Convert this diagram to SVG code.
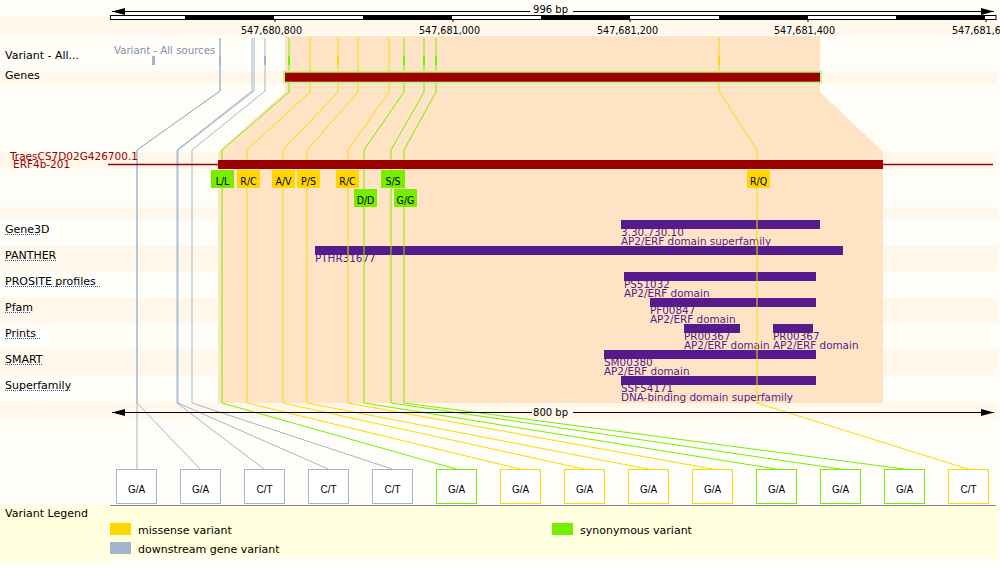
<svg xmlns="http://www.w3.org/2000/svg" width="1000" height="567" viewBox="0 0 1000 567">
<defs>
<style>
.lbl{font-family:"DejaVu Sans",sans-serif;font-size:11px;fill:#000}
.tick{font-family:"DejaVu Sans",sans-serif;font-size:9.6px;fill:#000}
.dom{font-family:"DejaVu Sans",sans-serif;font-size:10.4px;fill:#551a8b}
.dbar{fill:#551a8b}
.cod{font-family:"DejaVu Sans Condensed","DejaVu Sans",sans-serif;font-size:10.5px;fill:#000;text-anchor:middle}
.box{fill:#ffffff;stroke-width:1}
.btxt{font-family:"Liberation Sans",Arial,sans-serif;font-size:10px;fill:#000;text-anchor:middle}
.band{fill:#fff8ea}
.ul{stroke:#2a5db0;stroke-width:1;stroke-dasharray:1,1}
.gry{stroke:#a2b5cd}
.grn{stroke:#76ee00}
.yel{stroke:#ffd700}
.conn polyline{fill:none;stroke-width:1}
.leg{font-family:"DejaVu Sans",sans-serif;font-size:11px;fill:#000}
</style>
<marker id="arrL" markerWidth="13" markerHeight="7" refX="0" refY="3.5" orient="auto" markerUnits="userSpaceOnUse"><path d="M13,0 L0,3.5 L13,7 z" fill="#000"/></marker>
<marker id="arrR" markerWidth="13" markerHeight="7" refX="13" refY="3.5" orient="auto" markerUnits="userSpaceOnUse"><path d="M0,0 L13,3.5 L0,7 z" fill="#000"/></marker>
</defs>

<g id="background">
<rect x="0" y="0" width="1000" height="567" fill="#fffdf8"/>
<rect class="band" x="0" y="16" width="997" height="19"/>
<rect class="band" x="0" y="71" width="997" height="13"/>
<rect class="band" x="0" y="153" width="997" height="16"/>
<rect class="band" x="0" y="207" width="997" height="12"/>
<rect class="band" x="0" y="246" width="997" height="25"/>
<rect class="band" x="0" y="298" width="997" height="25"/>
<rect class="band" x="0" y="349" width="997" height="26"/>
<rect class="band" x="0" y="403" width="997" height="16"/>
<polygon points="285,36 820,36 820,92 883,152 883,403 218,403 218,152 285,92" fill="#fee4c4"/>
</g>

<g id="scale-top">
<line x1="112" y1="11.5" x2="530" y2="11.5" stroke="#000" stroke-width="1.2" marker-start="url(#arrL)"/>
<line x1="573" y1="11.5" x2="994" y2="11.5" stroke="#000" stroke-width="1.2" marker-end="url(#arrR)"/>
<text x="550.5" y="12.5" class="tick" text-anchor="middle" style="font-size:10px">996 bp</text>
<rect x="110.5" y="15.5" width="885.5" height="4" fill="#fff" stroke="#000" stroke-width="1"/>
<rect x="185" y="15.5" width="89" height="4" fill="#000"/>
<rect x="363" y="15.5" width="89" height="4" fill="#000"/>
<rect x="541" y="15.5" width="89" height="4" fill="#000"/>
<rect x="719" y="15.5" width="89" height="4" fill="#000"/>
<rect x="896" y="15.5" width="89" height="4" fill="#000"/>
<g stroke="#000" stroke-width="1">
<line x1="275" y1="19" x2="275" y2="22"/>
<line x1="453" y1="19" x2="453" y2="22"/>
<line x1="630" y1="19" x2="630" y2="22"/>
<line x1="808" y1="19" x2="808" y2="22"/>
<line x1="986" y1="19" x2="986" y2="22"/>
</g>
<text x="241" y="33.5" class="tick">547,680,800</text>
<text x="419" y="33.5" class="tick">547,681,000</text>
<text x="597" y="33.5" class="tick">547,681,200</text>
<text x="774" y="33.5" class="tick">547,681,400</text>
<text x="952" y="33.5" class="tick">547,681,6</text>
</g>

<g id="track-labels">
<text x="5" y="58.5" class="lbl">Variant - All...</text>
<text x="5" y="79" class="lbl">Genes</text>
<text x="114" y="53.5" class="lbl" style="font-size:10.2px;fill:#8391a6">Variant - All sources</text>
<text x="5" y="233" class="lbl">Gene3D</text>
<text x="5" y="259" class="lbl">PANTHER</text>
<text x="5" y="285" class="lbl">PROSITE profiles</text>
<text x="5" y="311" class="lbl">Pfam</text>
<text x="5" y="337" class="lbl">Prints</text>
<text x="5" y="363" class="lbl">SMART</text>
<text x="5" y="389" class="lbl">Superfamily</text>
<line class="ul" x1="5" y1="234.5" x2="41" y2="234.5"/>
<line class="ul" x1="5" y1="260.5" x2="56" y2="260.5"/>
<line class="ul" x1="5" y1="286.5" x2="101" y2="286.5"/>
<line class="ul" x1="5" y1="312.5" x2="31" y2="312.5"/>
<line class="ul" x1="5" y1="338.5" x2="41" y2="338.5"/>
<line class="ul" x1="5" y1="364.5" x2="43" y2="364.5"/>
<line class="ul" x1="5" y1="390.5" x2="71" y2="390.5"/>
</g>

<g id="variant-ticks">
<rect x="152" y="56" width="3" height="9" fill="#a2b5cd"/>
<rect x="219" y="56" width="2" height="9" fill="#a2b5cd"/>
<rect x="264" y="56" width="2" height="9" fill="#a2b5cd"/>
<rect x="288" y="56" width="2" height="9" fill="#76ee00"/>
<rect x="337" y="56" width="2" height="9" fill="#ffd700"/>
<rect x="403" y="56" width="2" height="9" fill="#76ee00"/>
<rect x="423" y="56" width="2" height="9" fill="#76ee00"/>
<rect x="435" y="56" width="2" height="9" fill="#76ee00"/>
<rect x="718" y="56" width="2" height="9" fill="#ffd700"/>
</g>

<g id="domains">
<text x="621" y="236" class="dom">3.30.730.10</text>
<text x="621" y="244.5" class="dom">AP2/ERF domain superfamily</text>
<rect class="dbar" x="621" y="220" width="199" height="9"/>
<text x="315" y="262" class="dom">PTHR31677</text>
<rect class="dbar" x="315" y="246" width="528" height="9"/>
<text x="624" y="288" class="dom">PS51032</text>
<text x="624" y="296.5" class="dom">AP2/ERF domain</text>
<rect class="dbar" x="624" y="272" width="192" height="9"/>
<text x="650" y="314" class="dom">PF00847</text>
<text x="650" y="322.5" class="dom">AP2/ERF domain</text>
<rect class="dbar" x="650" y="298" width="166" height="9"/>
<text x="684" y="340" class="dom">PR00367</text>
<text x="684" y="348.5" class="dom">AP2/ERF domain</text>
<rect class="dbar" x="684" y="324" width="56" height="9"/>
<text x="773" y="340" class="dom">PR00367</text>
<text x="773" y="348.5" class="dom">AP2/ERF domain</text>
<rect class="dbar" x="773" y="324" width="40" height="9"/>
<text x="604" y="366" class="dom">SM00380</text>
<text x="604" y="374.5" class="dom">AP2/ERF domain</text>
<rect class="dbar" x="604" y="350" width="212" height="9"/>
<text x="621" y="392" class="dom">SSF54171</text>
<text x="621" y="400.5" class="dom">DNA-binding domain superfamily</text>
<rect class="dbar" x="621" y="376" width="195" height="9"/>
</g>

<g id="connectors" class="conn">
<polyline class="gry" points="220,38 220,91 137,150 137,403 137,469"/>
<polyline class="gry" points="220,38 220,91 137,150 137,403 200,469"/>
<polyline class="gry" points="252,38 252,91 177,150 177,403 264,469"/>
<polyline class="gry" points="254,38 254,91 178,150 178,403 328,469"/>
<polyline class="gry" points="265,38 265,91 192,150 192,403 392,469"/>
<polyline class="grn" points="289,38 289,92 222,150 222,403 456,469"/>
<polyline class="yel" points="310,38 310,92 247,150 247,403 520,469"/>
<polyline class="yel" points="338,38 338,92 283,150 283,403 584,469"/>
<polyline class="yel" points="358,38 358,92 307,150 307,403 648,469"/>
<polyline class="yel" points="389,38 389,92 348,150 348,403 712,469"/>
<polyline class="grn" points="404,38 404,92 364,150 364,403 776,469"/>
<polyline class="grn" points="424,38 424,92 391,150 391,403 840,469"/>
<polyline class="grn" points="436,38 436,92 404,150 404,403 904,469"/>
<polyline class="yel" points="719,38 719,91 757,150 757,403 968,469"/>
</g>

<g id="gene">
<rect x="283" y="70.7" width="539" height="12.6" fill="#c4f08a"/>
<rect x="285" y="72.7" width="535" height="9" fill="#9b0000"/>
</g>

<g id="transcript">
<line x1="108" y1="164.5" x2="993" y2="164.5" stroke="#9b0000" stroke-width="1.3"/>
<rect x="218" y="160" width="665" height="9" fill="#9b0000"/>
<text x="10" y="160" class="lbl" style="font-size:10.5px;fill:#9b0000">TraesCS7D02G426700.1</text>
<text x="13" y="168" class="lbl" style="font-size:10.5px;fill:#9b0000">ERF4b-201</text>
</g>

<g id="codons">
<g id="codon-LL"><rect x="211" y="170" width="23" height="18" fill="#76ee00"/><text x="222.5" y="185" class="cod">L/L</text></g>
<g id="codon-RC1"><rect x="237" y="170" width="23" height="18" fill="#ffd700"/><text x="248.5" y="185" class="cod">R/C</text></g>
<g id="codon-AV"><rect x="272" y="170" width="23" height="18" fill="#ffd700"/><text x="283.5" y="185" class="cod">A/V</text></g>
<g id="codon-PS"><rect x="297" y="170" width="23" height="18" fill="#ffd700"/><text x="308.5" y="185" class="cod">P/S</text></g>
<g id="codon-RC2"><rect x="336" y="170" width="23" height="18" fill="#ffd700"/><text x="347.5" y="185" class="cod">R/C</text></g>
<g id="codon-SS"><rect x="381" y="170" width="24" height="18" fill="#76ee00"/><text x="393" y="185" class="cod">S/S</text></g>
<g id="codon-DD"><rect x="354" y="189" width="23" height="18" fill="#76ee00"/><text x="365.5" y="204" class="cod">D/D</text></g>
<g id="codon-GG"><rect x="394" y="189" width="23" height="18" fill="#76ee00"/><text x="405.5" y="204" class="cod">G/G</text></g>
<g id="codon-RQ"><rect x="747" y="170" width="23" height="18" fill="#ffd700"/><text x="758.5" y="185" class="cod">R/Q</text></g>
</g>

<g id="scale-bottom">
<line x1="112" y1="412.5" x2="532" y2="412.5" stroke="#000" stroke-width="1.2" marker-start="url(#arrL)"/>
<line x1="573" y1="412.5" x2="994" y2="412.5" stroke="#000" stroke-width="1.2" marker-end="url(#arrR)"/>
<text x="550.5" y="416" class="tick" text-anchor="middle" style="font-size:10px">800 bp</text>
</g>

<g id="alleles">
<g id="allele-1"><rect class="box gry" x="116.5" y="469.5" width="40" height="34"/><text x="136.5" y="493" class="btxt">G/A</text></g>
<g id="allele-2"><rect class="box gry" x="180.5" y="469.5" width="40" height="34"/><text x="200.5" y="493" class="btxt">G/A</text></g>
<g id="allele-3"><rect class="box gry" x="244.5" y="469.5" width="40" height="34"/><text x="264.5" y="493" class="btxt">C/T</text></g>
<g id="allele-4"><rect class="box gry" x="308.5" y="469.5" width="40" height="34"/><text x="328.5" y="493" class="btxt">C/T</text></g>
<g id="allele-5"><rect class="box gry" x="372.5" y="469.5" width="40" height="34"/><text x="392.5" y="493" class="btxt">C/T</text></g>
<g id="allele-6"><rect class="box grn" x="436.5" y="469.5" width="40" height="34"/><text x="456.5" y="493" class="btxt">G/A</text></g>
<g id="allele-7"><rect class="box yel" x="500.5" y="469.5" width="40" height="34"/><text x="520.5" y="493" class="btxt">G/A</text></g>
<g id="allele-8"><rect class="box yel" x="564.5" y="469.5" width="40" height="34"/><text x="584.5" y="493" class="btxt">G/A</text></g>
<g id="allele-9"><rect class="box yel" x="628.5" y="469.5" width="40" height="34"/><text x="648.5" y="493" class="btxt">G/A</text></g>
<g id="allele-10"><rect class="box yel" x="692.5" y="469.5" width="40" height="34"/><text x="712.5" y="493" class="btxt">G/A</text></g>
<g id="allele-11"><rect class="box grn" x="756.5" y="469.5" width="40" height="34"/><text x="776.5" y="493" class="btxt">G/A</text></g>
<g id="allele-12"><rect class="box grn" x="820.5" y="469.5" width="40" height="34"/><text x="840.5" y="493" class="btxt">G/A</text></g>
<g id="allele-13"><rect class="box grn" x="884.5" y="469.5" width="40" height="34"/><text x="904.5" y="493" class="btxt">G/A</text></g>
<g id="allele-14"><rect class="box yel" x="948.5" y="469.5" width="40" height="34"/><text x="968.5" y="493" class="btxt">C/T</text></g>
</g>

<g id="legend">
<rect x="0" y="505" width="110" height="57" fill="#ffffdd"/>
<rect x="110" y="505" width="887" height="52" fill="#ffffdd"/>
<line x1="110" y1="505.5" x2="996" y2="505.5" stroke="#888" stroke-width="1"/>
<text x="5" y="517" class="leg">Variant Legend</text>
<rect x="110" y="523" width="21" height="12" fill="#ffd700"/>
<text x="138" y="533.5" class="leg">missense variant</text>
<rect x="110" y="542" width="21" height="12" fill="#a2b5cd"/>
<text x="138" y="552.5" class="leg">downstream gene variant</text>
<rect x="552" y="523" width="21" height="12" fill="#76ee00"/>
<text x="580" y="533.5" class="leg">synonymous variant</text>
</g>
</svg>
